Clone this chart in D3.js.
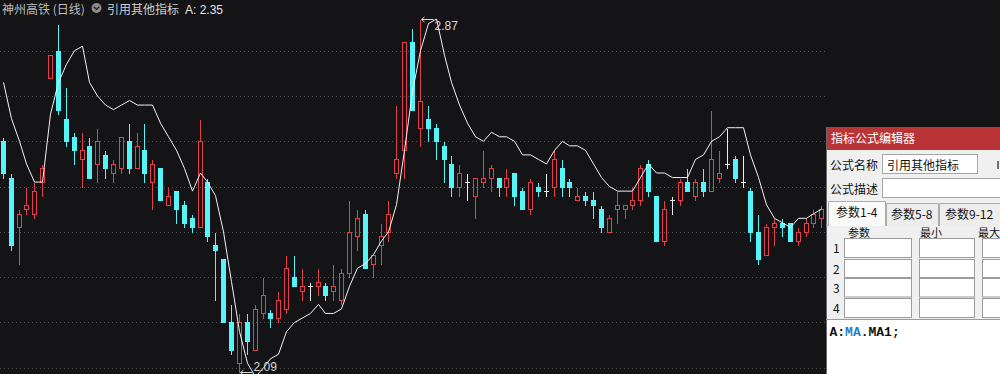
<!DOCTYPE html>
<html><head><meta charset="utf-8">
<script src="https://cdn.jsdelivr.net/npm/d3@7"></script>
<style>html,body{margin:0;padding:0;background:#141316;overflow:hidden}svg{display:block}</style>
</head><body><svg id="c" width="1000" height="374"></svg>
<script>
// ---- data ----
const opens  = [2.60,2.52,2.41,2.45,2.44,2.51,2.74,2.80,2.65,2.61,2.56,2.59,2.55,2.57,2.53,2.54,2.60,2.54,2.58,2.51,
                2.54,2.46,2.49,2.46,2.43,2.41,2.51,2.37,2.34,2.20,2.11,2.20,2.14,2.22,2.22,2.21,2.23,2.30,2.27,2.28,
                2.28,2.28,2.27,2.25,2.31,2.39,2.44,2.33,2.37,2.40,2.53,2.58,2.82,2.63,2.65,2.63,2.59,2.55,2.50,2.51,
                2.48,2.51,2.52,2.52,2.50,2.53,2.49,2.45,2.50,2.49,2.50,2.54,2.51,2.47,2.48,2.47,2.45,2.40,2.45,2.45,
                2.46,2.47,2.55,2.48,2.38,2.47,2.47,2.51,2.48,2.51,2.49,2.52,2.55,2.56,2.51,2.49,2.40,2.35,2.41,2.42,
                2.42,2.38,2.40,2.42,2.43];
const highs  = [2.61,2.53,2.45,2.50,2.51,2.55,2.79,2.86,2.72,2.62,2.62,2.61,2.63,2.58,2.56,2.61,2.64,2.62,2.64,2.56,
                2.54,2.50,2.49,2.47,2.44,2.65,2.52,2.40,2.34,2.24,2.22,2.22,2.24,2.30,2.23,2.27,2.35,2.35,2.32,2.29,
                2.32,2.29,2.33,2.32,2.47,2.45,2.45,2.35,2.42,2.47,2.68,2.82,2.85,2.87,2.68,2.64,2.60,2.57,2.55,2.53,
                2.52,2.58,2.55,2.52,2.54,2.53,2.50,2.52,2.51,2.53,2.58,2.56,2.52,2.50,2.49,2.49,2.46,2.44,2.49,2.46,
                2.50,2.55,2.56,2.48,2.47,2.48,2.52,2.54,2.52,2.54,2.67,2.58,2.63,2.57,2.57,2.50,2.44,2.42,2.43,2.43,
                2.42,2.41,2.43,2.45,2.46];
const lows   = [2.52,2.36,2.33,2.44,2.43,2.48,2.74,2.66,2.59,2.55,2.50,2.52,2.51,2.52,2.51,2.53,2.53,2.54,2.51,2.45,
                2.47,2.46,2.42,2.41,2.40,2.41,2.38,2.25,2.20,2.13,2.09,2.13,2.14,2.21,2.19,2.20,2.22,2.28,2.25,2.25,
                2.26,2.25,2.25,2.24,2.30,2.36,2.32,2.30,2.33,2.38,2.52,2.52,2.67,2.59,2.60,2.56,2.51,2.48,2.48,2.47,
                2.43,2.50,2.49,2.48,2.48,2.46,2.45,2.44,2.48,2.48,2.48,2.48,2.48,2.47,2.46,2.43,2.40,2.40,2.42,2.43,
                2.45,2.46,2.48,2.38,2.37,2.44,2.46,2.49,2.47,2.48,2.49,2.51,2.54,2.51,2.50,2.38,2.33,2.35,2.37,2.39,
                2.38,2.37,2.39,2.41,2.41];
const closes = [2.53,2.37,2.44,2.46,2.49,2.54,2.79,2.67,2.60,2.58,2.58,2.52,2.60,2.54,2.55,2.61,2.54,2.59,2.53,2.55,
                2.47,2.48,2.45,2.42,2.41,2.60,2.39,2.36,2.20,2.14,2.20,2.16,2.23,2.26,2.21,2.25,2.32,2.28,2.28,2.28,
                2.29,2.26,2.28,2.31,2.40,2.43,2.32,2.35,2.39,2.44,2.56,2.82,2.67,2.69,2.63,2.60,2.56,2.50,2.53,2.51,
                2.52,2.52,2.54,2.50,2.52,2.48,2.45,2.51,2.49,2.49,2.56,2.50,2.50,2.48,2.47,2.46,2.41,2.43,2.46,2.46,
                2.47,2.54,2.49,2.38,2.45,2.47,2.51,2.49,2.51,2.49,2.56,2.53,2.55,2.52,2.51,2.40,2.34,2.41,2.42,2.41,
                2.38,2.40,2.42,2.44,2.45];
const maValues = [2.73,2.65,2.60,2.55,2.51,2.51,2.66,2.73,2.77,2.80,2.81,2.73,2.70,2.68,2.67,2.68,2.69,2.68,2.68,2.68,
                  2.64,2.61,2.58,2.54,2.49,2.53,2.51,2.48,2.40,2.29,2.18,2.11,2.08,2.10,2.12,2.13,2.18,2.20,2.21,2.22,
                  2.24,2.22,2.22,2.23,2.28,2.32,2.33,2.35,2.38,2.40,2.46,2.58,2.71,2.80,2.86,2.87,2.79,2.73,2.68,2.64,
                  2.61,2.60,2.62,2.61,2.61,2.60,2.57,2.57,2.56,2.55,2.58,2.60,2.59,2.59,2.58,2.55,2.52,2.50,2.49,2.49,
                  2.49,2.52,2.55,2.53,2.53,2.52,2.52,2.52,2.56,2.57,2.60,2.61,2.63,2.63,2.63,2.57,2.52,2.46,2.43,2.42,
                  2.41,2.43,2.43,2.44,2.45];
const gridTicks = [2.1,2.2,2.3,2.4,2.5,2.6,2.7,2.8];
const stockTitle = "神州高铁 (日线)";
const indicatorName = "引用其他指标";
const indicatorValue = "A: 2.35";

// ---- drawing ----
const svg = d3.select("#c");
svg.append("rect").attr("width",1000).attr("height",374).attr("fill","#141316");

const x = d3.scaleBand().domain(d3.range(opens.length)).range([-0.6, 825.7]).padding(0);
const y = d3.scaleLinear().domain([2.1, 2.8]).range([367.8, 50.7]);
const cx = i => Math.floor(x(i) + x.bandwidth()/2) + 0.5;
const py = v => Math.round(y(v)) + 0.5;

const RED = "#e2404a", CYAN = "#54f4f8", DOJI = "#ececec";

// grid
svg.append("g").selectAll("line").data(gridTicks).join("line")
  .attr("x1",0).attr("x2",826).attr("y1",d=>Math.round(y(d))+0.5).attr("y2",d=>Math.round(y(d))+0.5)
  .attr("stroke","#545454").attr("stroke-width",1).attr("stroke-dasharray","1,3");

const idx = d3.range(opens.length);
const g = svg.append("g").attr("shape-rendering","crispEdges");
idx.forEach(i => {
  const o = opens[i], c = closes[i], h = highs[i], l = lows[i];
  const X = cx(i);
  if (c > o) {
    const top = py(c), bot = py(o);
    if (py(h) < top) g.append("line").attr("x1",X).attr("x2",X).attr("y1",py(h)).attr("y2",top).attr("stroke",RED);
    if (py(l) > bot) g.append("line").attr("x1",X).attr("x2",X).attr("y1",bot).attr("y2",py(l)).attr("stroke",RED);
    g.append("rect").attr("x",X-2).attr("y",top).attr("width",4).attr("height",Math.max(1,bot-top))
      .attr("fill","none").attr("stroke",RED).attr("stroke-width",1);
  } else if (c < o) {
    g.append("line").attr("x1",X).attr("x2",X).attr("y1",py(h)).attr("y2",py(l)).attr("stroke",CYAN);
    const top = Math.round(y(o)), bot = Math.round(y(c));
    g.append("rect").attr("x",X-2.5).attr("y",top).attr("width",5).attr("height",Math.max(1,bot-top)+1)
      .attr("fill",CYAN);
  } else {
    g.append("line").attr("x1",X).attr("x2",X).attr("y1",py(h)).attr("y2",py(l)).attr("stroke",DOJI);
    g.append("line").attr("x1",X-2.5).attr("x2",X+2.5).attr("y1",py(c)).attr("y2",py(c)).attr("stroke",DOJI);
  }
});

// MA line
const line = d3.line().x((d,i)=>cx(i)).y(d=>y(d));
svg.append("path").datum(maValues).attr("d",line).attr("fill","none")
  .attr("stroke","#f2f2f2").attr("stroke-width",1);

// high / low markers
const hi = d3.maxIndex(highs), lo = d3.minIndex(lows);
function marker(i, v, yText) {
  const X = cx(i), Y = py(v);
  svg.append("path").attr("d",`M${X+1},${Y}L${X+13},${Y}M${X+4},${Y-2.5}L${X+1},${Y}L${X+4},${Y+2.5}`)
    .attr("fill","none").attr("stroke","#d8d8d8").attr("stroke-width",1);
  svg.append("text").attr("x",X+14).attr("y",yText).text(v.toFixed(2))
    .attr("fill","#d8d8d8").attr("font-family","Liberation Sans, Arial, sans-serif").attr("font-size",12);
}
marker(hi, highs[hi], py(highs[hi]) + 10);
marker(lo, lows[lo], 371.3);

// header
const hdr = svg.append("g").attr("font-family","Noto Sans CJK SC, sans-serif").attr("font-size",12);
hdr.append("text").attr("x",2).attr("y",13.5).attr("fill","#bdbdbd").text(stockTitle);
hdr.append("circle").attr("cx",96.5).attr("cy",8).attr("r",5).attr("fill","#8c8c8c");
hdr.append("path").attr("d","M93.8,6.7L96.5,9.4L99.2,6.7").attr("fill","none").attr("stroke","#1c1c1c").attr("stroke-width",1.3);
hdr.append("text").attr("x",107).attr("y",13.5).attr("fill","#cfcfcf").text(indicatorName);
hdr.append("text").attr("x",185).attr("y",13.5).attr("fill","#e4e4e4").attr("font-family","Liberation Sans, Arial, sans-serif").text(indicatorValue);

// dialog
const dl = svg.append("g").attr("font-family","Noto Sans CJK SC, sans-serif").attr("font-size",12);
dl.append("rect").attr("x",826).attr("y",127).attr("width",174).attr("height",247).attr("fill","#f0f0f0");
dl.append("rect").attr("x",826).attr("y",127).attr("width",174).attr("height",23).attr("fill","#b93337");
dl.append("line").attr("x1",826.5).attr("x2",826.5).attr("y1",127).attr("y2",374).attr("stroke","#6a6a6a");
dl.append("text").attr("x",831).attr("y",143).attr("fill","#ffffff").text("指标公式编辑器");

dl.append("text").attr("x",830).attr("y",170).attr("fill","#111").text("公式名称");
dl.append("rect").attr("x",882.5).attr("y",154.5).attr("width",95).attr("height",19).attr("fill","#fff").attr("stroke","#a6a6a6");
dl.append("text").attr("x",887).attr("y",169.5).attr("fill","#111").text(indicatorName);
dl.append("rect").attr("x",997).attr("y",161).attr("width",2).attr("height",8).attr("fill","#707070");

dl.append("text").attr("x",830).attr("y",194).attr("fill","#111").text("公式描述");
dl.append("rect").attr("x",882.5).attr("y",178.5).attr("width",130).attr("height",19).attr("fill","#fff").attr("stroke","#a6a6a6");

// tabs
const tabs = [
  {t:"参数1-4", x0:828.5, x1:885.5, top:201.5, tx:836, active:true},
  {t:"参数5-8", x0:886.5, x1:938.5, top:203.5, tx:891, active:false},
  {t:"参数9-12", x0:939.5, x1:1003, top:203.5, tx:945, active:false}
];
dl.append("line").attr("x1",826).attr("x2",1000).attr("y1",225.5).attr("y2",225.5).attr("stroke","#acacac");
tabs.forEach(tb => {
  dl.append("path").attr("d",`M${tb.x0},226L${tb.x0},${tb.top}L${tb.x1},${tb.top}L${tb.x1},226`)
    .attr("fill", tb.active ? "#fafafa" : "#ededed").attr("stroke","#acacac");
  if (tb.active) dl.append("line").attr("x1",tb.x0+0.5).attr("x2",tb.x1-0.5).attr("y1",225.5).attr("y2",225.5).attr("stroke","#fafafa");
  dl.append("text").attr("x",tb.tx).attr("y",tb.top+15.5).attr("fill","#111").text(tb.t);
});

// column headers
[["参数",848],["最小",920],["最大",978]].forEach(([t,xx]) =>
  dl.append("text").attr("x",xx).attr("y",236.5).attr("font-size",11).attr("fill","#111").text(t));
const rowsY = [[238.5,19],[259.5,18],[278.5,18.5],[298.5,19]];
const cols = [[844.5,67],[919.5,55],[982.5,30]];
rowsY.forEach(([ry,rh],r) => {
  dl.append("text").attr("x",833).attr("y",ry+14).attr("fill","#111").text(String(r+1));
  cols.forEach(([cx0,cw]) => dl.append("rect").attr("x",cx0).attr("y",ry).attr("width",cw).attr("height",rh)
    .attr("fill","#fff").attr("stroke","#9c9c9c"));
});

// editor
dl.append("rect").attr("x",827).attr("y",320).attr("width",173).attr("height",54).attr("fill","#ffffff");
dl.append("line").attr("x1",826).attr("x2",1000).attr("y1",319.5).attr("y2",319.5).attr("stroke","#9a9a9a");
const ed = dl.append("text").attr("x",829.5).attr("y",336).attr("font-family","Liberation Mono, monospace")
  .attr("font-size",13).attr("font-weight","bold").attr("fill","#111");
ed.append("tspan").text("A:");
ed.append("tspan").attr("fill","#1f7fc6").text("MA");
ed.append("tspan").text(".MA1;");
</script>
</body></html>
